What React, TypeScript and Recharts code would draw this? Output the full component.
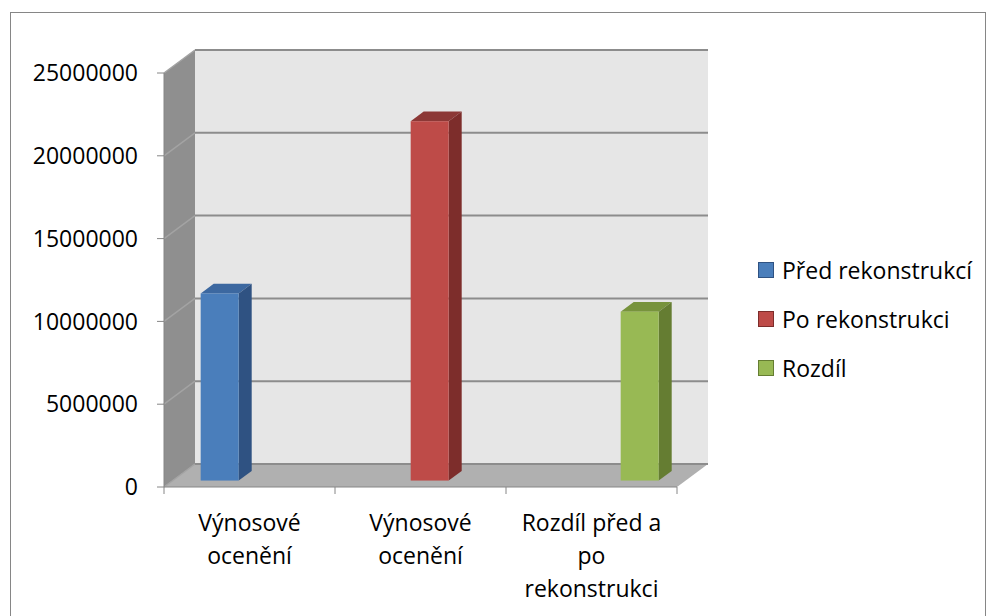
import React from 'react';
import { BarChart, Bar, XAxis, YAxis, CartesianGrid, ReferenceArea, Legend } from 'recharts';

const categories = ['Výnosové\nocenění', 'Výnosové\nocenění', 'Rozdíl před a\npo\nrekonstrukci'];
const seriesNames = ['Před rekonstrukcí', 'Po rekonstrukci', 'Rozdíl'];
const beforeValues = [11300000, null, null];
const afterValues = [null, 21700000, null];
const diffValues = [null, null, 10200000];
const yTicks = [0, 5000000, 10000000, 15000000, 20000000, 25000000];

const FRONT = ['#4a7ebb', '#be4b48', '#98b954'];
const TOP = ['#3c68a0', '#8c3836', '#77933c'];
const SIDE = ['#2f5282', '#7d2d2b', '#657d32'];
const AXIS = '#868686';
const FONT = '"Open Sans", sans-serif';

const W = 987;
const H = 616;
const M = { top: 73, right: 310, bottom: 0, left: 0 };
const Y_AXIS_W = 164;
const X_AXIS_H = 129;
const PLOT_W = W - Y_AXIS_W - M.right;
// depth of the fake 3d box, and where the columns sit inside it
const DX = 31;
const DY = 23;
const B0 = 0.28;
const B1 = 0.7;

const data = categories.map((cat, i) => ({
  cat,
  before: beforeValues[i],
  after: afterValues[i],
  diff: diffValues[i],
}));

const Box = (p: any) => {
  const { x, y, width, height } = p;
  const b = y + height;
  return (
    <g>
      <rect x={x + DX} y={y - DY} width={width} height={height} fill="#e6e6e6" />
      <polygon points={`${x},${b} ${x},${y} ${x + DX},${y - DY} ${x + DX},${b - DY}`} fill="#8f8f8f" />
      <polygon
        points={`${x},${b} ${x + DX},${b - DY} ${x + width + DX},${b - DY} ${x + width},${b}`}
        fill="#b0b0b0"
      />
    </g>
  );
};

const GridLine = (p: any) => {
  const { x1, y1, x2, y2 } = p;
  return (
    <g key={p.key ?? `g-${y1}`}>
      <line x1={x1} y1={y1} x2={x1 + DX} y2={y1 - DY} stroke="#a3a3a3" strokeWidth={1.5} />
      <line x1={x1 + DX} y1={y1 - DY} x2={x2 + DX} y2={y2 - DY} stroke="#8c8c8c" strokeWidth={2} />
    </g>
  );
};

const makeBar = (si: number) => (p: any) => {
  const { x, y, width, height } = p;
  if (!height || height <= 0) return null;
  const fx = x + B0 * DX;
  const fy = y - B0 * DY;
  const dx = (B1 - B0) * DX;
  const dy = (B1 - B0) * DY;
  return (
    <g>
      <polygon
        points={`${fx},${fy} ${fx + dx},${fy - dy} ${fx + width + dx},${fy - dy} ${fx + width},${fy}`}
        fill={TOP[si]}
      />
      <polygon
        points={`${fx + width},${fy} ${fx + width + dx},${fy - dy} ${fx + width + dx},${fy + height - dy} ${fx + width},${fy + height}`}
        fill={SIDE[si]}
      />
      <rect x={fx} y={fy} width={width} height={height} fill={FRONT[si]} />
    </g>
  );
};

const XTick = (p: any) => {
  const { x, y, payload, index } = p;
  const band = PLOT_W / categories.length;
  const lines = String(payload.value).split('\n');
  return (
    <g>
      <line x1={x - band / 2} y1={y} x2={x - band / 2} y2={y + 7} stroke={AXIS} />
      {index === categories.length - 1 && (
        <line x1={x + band / 2} y1={y} x2={x + band / 2} y2={y + 7} stroke={AXIS} />
      )}
      <text x={x} y={y} textAnchor="middle" fontFamily={FONT} fontSize={23} fill="#000">
        {lines.map((l, i) => (
          <tspan key={i} x={x} y={y + 44 + i * 33}>
            {l}
          </tspan>
        ))}
      </text>
    </g>
  );
};

const LegendBox = () => (
  <div style={{ fontFamily: FONT, fontSize: 23, color: '#000' }}>
    {seriesNames.map((n, i) => (
      <div key={n} style={{ height: 49, display: 'flex', alignItems: 'center' }}>
        <span
          style={{
            display: 'inline-block',
            width: 14,
            height: 14,
            background: FRONT[i],
            border: `1px solid ${SIDE[i]}`,
            marginRight: 8,
          }}
        />
        {n}
      </div>
    ))}
  </div>
);

export default function App() {
  return (
    <div style={{ position: 'absolute', left: 0, top: 0, width: W, height: H }}>
      <div
        style={{
          position: 'absolute',
          left: 10,
          top: 12,
          width: 974,
          height: 610,
          borderLeft: '1px solid #868686',
          borderTop: '1px solid #868686',
          borderRight: '1px solid #868686',
        }}
      />
      <BarChart width={W} height={H} data={data} margin={M} barSize={38} barGap={1}>
        <ReferenceArea y1={0} y2={25000000} ifOverflow="visible" shape={Box} zIndex={-150} />
        <CartesianGrid vertical={false} horizontal={GridLine} />
        <XAxis
          dataKey="cat"
          height={X_AXIS_H}
          interval={0}
          tickLine={false}
          tickSize={0}
          tickMargin={0}
          axisLine={{ stroke: AXIS }}
          tick={XTick}
        />
        <YAxis
          width={Y_AXIS_W}
          domain={[0, 25000000]}
          ticks={yTicks}
          interval={0}
          tickSize={7}
          tickMargin={19}
          axisLine={{ stroke: AXIS }}
          tickLine={{ stroke: AXIS }}
          tick={{ fill: '#000', fontSize: 23, fontFamily: FONT }}
        />
        <Legend
          layout="vertical"
          align="center"
          verticalAlign="middle"
          content={LegendBox}
          wrapperStyle={{ left: 758, top: 245, width: 229 }}
        />
        <Bar dataKey="before" name={seriesNames[0]} fill={FRONT[0]} shape={makeBar(0)} isAnimationActive={false} />
        <Bar dataKey="after" name={seriesNames[1]} fill={FRONT[1]} shape={makeBar(1)} isAnimationActive={false} />
        <Bar dataKey="diff" name={seriesNames[2]} fill={FRONT[2]} shape={makeBar(2)} isAnimationActive={false} />
      </BarChart>
    </div>
  );
}
